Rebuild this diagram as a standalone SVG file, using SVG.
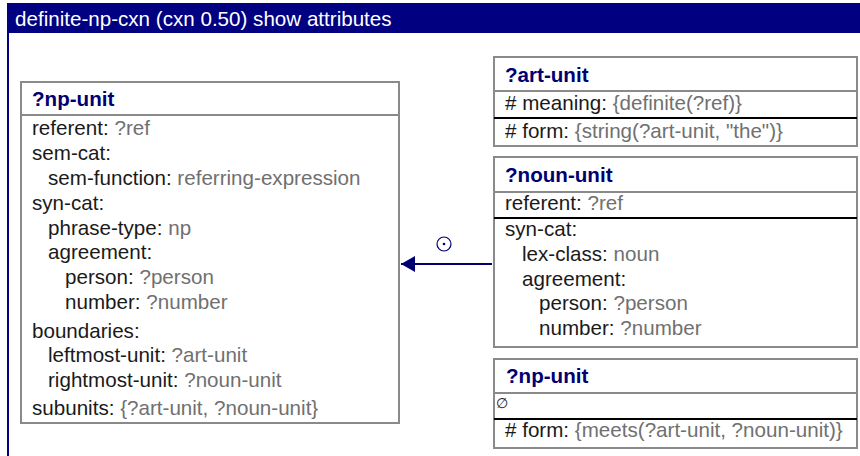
<svg xmlns="http://www.w3.org/2000/svg" width="860" height="456" viewBox="0 0 860 456">
<defs>
<style>
text{font-family:"Liberation Sans",Arial,Helvetica,sans-serif;font-size:20.6px;fill:#1a1a1a}
.t{fill:#ffffff}
.h{font-weight:bold;fill:#000070}
.v{fill:#707070}
.box{fill:#ffffff;stroke:#8a8a8a;stroke-width:2}
.sep{stroke:#8a8a8a;stroke-width:2}
.blk{stroke:#000000;stroke-width:2}
.conn{stroke:#000070;stroke-width:2;fill:none}
</style>
<marker id="ah" markerWidth="16" markerHeight="16" viewBox="0 0 16 16" refX="15" refY="8" orient="auto" markerUnits="userSpaceOnUse">
<path d="M1,0 L15,8 L1,16 Z" fill="#000070"/>
</marker>
</defs>
<g id="frame">
<rect x="7" y="3" width="853" height="30" fill="#000080"/>
<rect x="7" y="33" width="2" height="423" fill="#000080"/>
<text class="t" x="15" y="26">definite-np-cxn (cxn 0.50) show attributes</text>
</g>
<g id="np-unit">
<rect class="box" x="21" y="82" width="378" height="341"/>
<line class="sep" x1="21" y1="115" x2="399" y2="115"/>
<text class="h" x="32" y="106">?np-unit</text>
<text x="32" y="135">referent: <tspan class="v">?ref</tspan></text>
<text x="32" y="160">sem-cat:</text>
<text x="48" y="185">sem-function: <tspan class="v">referring-expression</tspan></text>
<text x="32" y="210">syn-cat:</text>
<text x="48" y="235">phrase-type: <tspan class="v">np</tspan></text>
<text x="48" y="259">agreement:</text>
<text x="65" y="284">person: <tspan class="v">?person</tspan></text>
<text x="65" y="309">number: <tspan class="v">?number</tspan></text>
<text x="32" y="338">boundaries:</text>
<text x="48" y="362">leftmost-unit: <tspan class="v">?art-unit</tspan></text>
<text x="48" y="387">rightmost-unit: <tspan class="v">?noun-unit</tspan></text>
<text x="32" y="415">subunits: <tspan class="v">{?art-unit, ?noun-unit}</tspan></text>
</g>
<g id="art-unit">
<rect class="box" x="494" y="57" width="363" height="89"/>
<line class="sep" x1="494" y1="91" x2="857" y2="91"/>
<line class="blk" x1="494" y1="118" x2="857" y2="118"/>
<text class="h" x="505" y="82">?art-unit</text>
<text x="505" y="110"># meaning: <tspan class="v">{definite(?ref)}</tspan></text>
<text x="505" y="138"># form: <tspan class="v">{string(?art-unit, "the")}</tspan></text>
</g>
<g id="noun-unit">
<rect class="box" x="494" y="157" width="363" height="190"/>
<line class="sep" x1="494" y1="192" x2="857" y2="192"/>
<line class="blk" x1="494" y1="218" x2="857" y2="218"/>
<text class="h" x="505" y="182">?noun-unit</text>
<text x="505" y="210">referent: <tspan class="v">?ref</tspan></text>
<text x="505" y="236">syn-cat:</text>
<text x="522" y="261">lex-class: <tspan class="v">noun</tspan></text>
<text x="522" y="286">agreement:</text>
<text x="539" y="310">person: <tspan class="v">?person</tspan></text>
<text x="539" y="335">number: <tspan class="v">?number</tspan></text>
</g>
<g id="np-unit-form">
<rect class="box" x="494" y="359" width="363" height="89"/>
<line class="sep" x1="494" y1="393" x2="857" y2="393"/>
<line class="blk" x1="494" y1="419" x2="857" y2="419"/>
<text class="h" x="506" y="383">?np-unit</text>
<text x="496" y="408" style="font-size:14px">∅</text>
<text x="505" y="437"># form: <tspan class="v">{meets(?art-unit, ?noun-unit)}</tspan></text>
</g>
<g id="connectors">
<line class="conn" x1="492" y1="264" x2="401" y2="264" marker-end="url(#ah)"/>
<circle cx="444" cy="244" r="7" fill="none" stroke="#000070" stroke-width="1.2"/>
<circle cx="444" cy="244" r="1.3" fill="#000070"/>
</g>
</svg>
